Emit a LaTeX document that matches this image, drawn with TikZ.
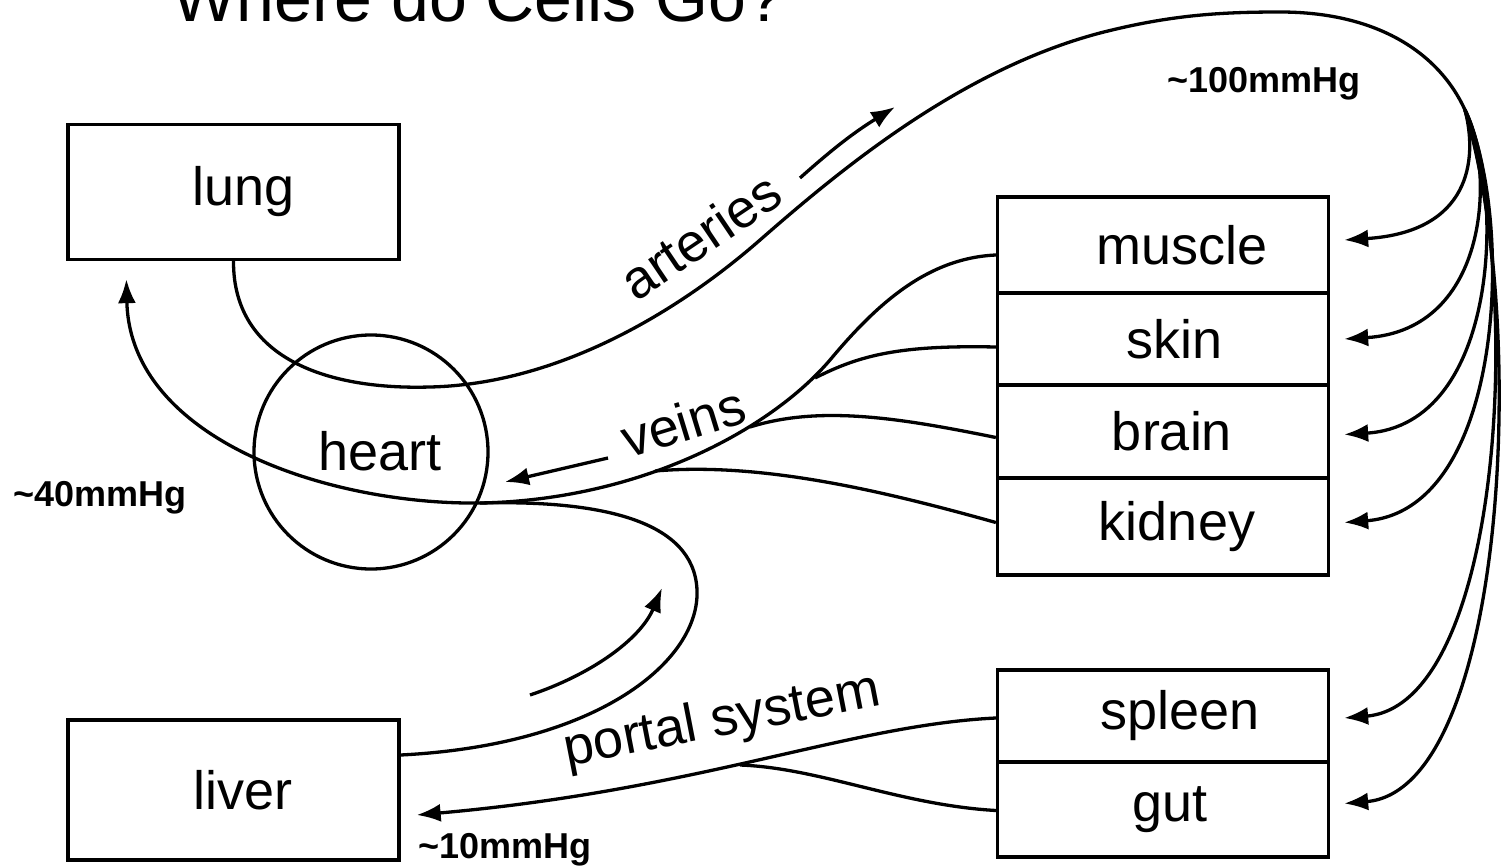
\documentclass[tikz,border=0pt]{standalone}
\usepackage{fontspec}
\setmainfont{Liberation Sans}
\usetikzlibrary{arrows.meta}
\begin{document}
\begin{tikzpicture}[x=1pt,y=-1pt,
  line/.style={line width=3.3pt},
  box/.style={draw, line width=3.3pt, minimum width=331pt, inner sep=0pt, lab},
  lab/.style={font=\fontsize{54}{60}\selectfont},
  small/.style={font=\bfseries\fontsize{36}{40}\selectfont},
  tip/.style={-{Latex[length=24pt,width=18pt]}},
  ]
\useasboundingbox (0,0) rectangle (1507,867);
\clip (0,0) rectangle (1507,867);

% title
\node[anchor=base west, inner sep=0pt, font=\fontsize{68}{80}\selectfont] (title) at (172,22) {Where do Cells Go?};

% boxes
\node[box, minimum height=135pt] (lung) at (233.5,192) {\hspace*{20pt}lung};
\node[box, minimum height=140pt] (liver) at (233.5,790) {\hspace*{20pt}liver};
\node[draw, circle, line width=3.3pt, minimum size=234pt, inner sep=0pt] (heart) at (371,452) {};
\node[lab] (heartlab) at (380,451) {heart};

\node[box, minimum height=96pt] (muscle) at (1163,245) {\hspace*{38pt}muscle};
\node[box, minimum height=92pt] (skin) at (1163,339) {\hspace*{24pt}skin};
\node[box, minimum height=93pt] (brain) at (1163,431.5) {\hspace*{18pt}brain};
\node[box, minimum height=97pt] (kidney) at (1163,526.5) {\hspace*{28pt}kidney};
\node[box, minimum height=92pt] (spleen) at (1163,716) {\hspace*{34pt}spleen};
\node[box, minimum height=95pt] (gut) at (1163,809.5) {\hspace*{14pt}gut};

% coordinates
\coordinate (S) at (1465,110);
\coordinate (J) at (480,503);

% arteries
\draw[line] (lung.south) .. controls (233,360) and (330,390) .. (430,387)
  .. controls (560,384) and (680,310) .. (760,240)
  .. controls (840,170) and (960,70) .. (1100,33)
  .. controls (1170,15) and (1220,12) .. (1280,12)
  .. controls (1380,12) and (1440,55) .. (S);

\draw[line, tip] (S) .. controls (1478,160) and (1470,232) .. ([xshift=14pt,yshift=5pt]muscle.east);
\draw[line, tip] (S) .. controls (1495,170) and (1490,330) .. ([xshift=14pt]skin.east);
\draw[line, tip] (S) .. controls (1505,190) and (1500,425) .. ([xshift=14pt,yshift=-3pt]brain.east);
\draw[line, tip] (S) .. controls (1515,220) and (1505,510) .. ([xshift=14pt,yshift=4pt]kidney.east);
\draw[line, tip] (S) .. controls (1525,300) and (1500,705) .. ([xshift=14pt,yshift=-2pt]spleen.east);
\draw[line, tip] (S) .. controls (1530,330) and (1505,790) .. ([xshift=14pt,yshift=6pt]gut.east);

% veins
\coordinate (V1) at (830,360);
\draw[line, tip] ([yshift=-10pt]muscle.west) .. controls (930,258) and (880,300) .. (V1)
  .. controls (770,430) and (640,500) .. (J)
  .. controls (330,505) and (130,440) .. ([xshift=60pt,yshift=-18pt]lung.south west);
\draw[line] ([yshift=-8pt]skin.west) .. controls (900,345) and (860,355) .. (815,378);
\draw[line] ([yshift=-6pt]brain.west) .. controls (900,418) and (820,405) .. (750,427);
\draw[line] ([yshift=4pt]kidney.west) .. controls (880,490) and (760,462) .. (655,471);

% portal
\draw[line] ([yshift=35pt]liver.east) .. controls (600,745) and (700,660) .. (697,590)
  .. controls (694,520) and (600,500) .. (J);
\draw[line, tip] ([yshift=-2pt]spleen.west) .. controls (850,725) and (700,790) .. ([xshift=16pt,yshift=-25pt]liver.east);
\draw[line] ([yshift=-1pt]gut.west) .. controls (900,805) and (820,768) .. (740,765);

% free arrows
\coordinate (a1) at (800,178);
\coordinate (a2) at (895,107);
\draw[line, tip] (a1) to[bend left=5] (a2);
\coordinate (v1) at (608,458);
\coordinate (v2) at (505,482);
\draw[line, tip] (v1) -- (v2);
\coordinate (p1) at (530,695);
\coordinate (p2) at (662,588);
\draw[line, tip] (p1) .. controls (590,675) and (640,640) .. (p2);

% labels
\node[lab, rotate=34] (lart) at (700,236) {arteries};
\node[lab, rotate=17] (lvein) at (683,422) {veins};
\node[lab, rotate=11] (lport) at (722,722) {portal system};
\node[small] (p100) at (1264,84) {\textasciitilde100mmHg};
\node[small] (p40) at (100,498) {\textasciitilde40mmHg};
\node[small] (p10) at (505,850) {\textasciitilde10mmHg};
\end{tikzpicture}
\end{document}
